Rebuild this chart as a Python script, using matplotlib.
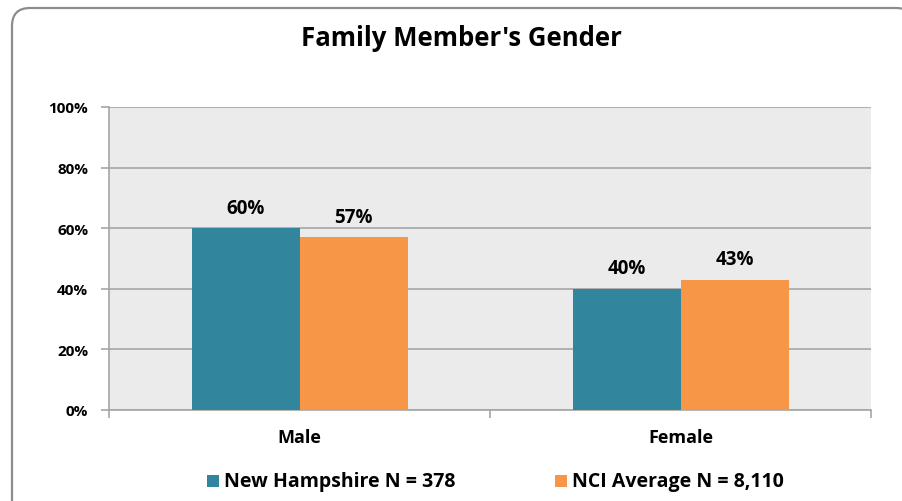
import matplotlib
matplotlib.use("Agg")
import matplotlib.pyplot as plt
from matplotlib.patches import FancyBboxPatch, Rectangle
import numpy as np

categories = ["Male", "Female"]
nh_values = [60, 40]
nci_values = [57, 43]
series_names = ["New Hampshire N = 378", "NCI Average N = 8,110"]
title = "Family Member's Gender"
yticks = [0, 20, 40, 60, 80, 100]

teal = "#31859C"
orange = "#F79646"

plt.rcParams['font.family'] = ['Open Sans', 'DejaVu Sans']
plt.rcParams['font.weight'] = 'bold'

fig = plt.figure(figsize=(9.02, 5.02), dpi=100)
W, H = 902, 502

# rounded border
border = FancyBboxPatch((12 / W, -0.05), 1.0, (502 - 9) / H + 0.05,
                        boxstyle="round,pad=0,rounding_size=0.02",
                        transform=fig.transFigure, facecolor="white",
                        edgecolor="#8C8C8C", linewidth=1.6, zorder=-10,
                        mutation_aspect=W / H)
fig.patches.append(border)

ax = fig.add_axes([109 / W, 1 - 411 / H, (871 - 109) / W, (411 - 108) / H])
ax.set_zorder(5)
ax.set_facecolor("#EBEBEB")
ax.set_xlim(0, 2)
ax.set_ylim(0, 100)

x = np.arange(len(categories)) + 0.5
bw = 108 / 381
b1 = ax.bar(x - bw / 2, nh_values, bw, color=teal, zorder=3)
b2 = ax.bar(x + bw / 2, nci_values, bw, color=orange, zorder=3)

for bars, vals in ((b1, nh_values), (b2, nci_values)):
    for r, v in zip(bars, vals):
        ax.text(r.get_x() + r.get_width() / 2, v + 3.5, f"{v}%", ha="center",
                va="bottom", fontsize=13.5, fontweight="bold", color="black")

ax.set_yticks(yticks)
ax.set_yticklabels([f"{t}%" for t in yticks], fontsize=11, fontweight="bold")
ax.yaxis.grid(True, color="#A6A6A6", linewidth=1.2, zorder=0)
ax.set_axisbelow(True)

ax.set_xticks([0, 1, 2])
ax.set_xticklabels([])
ax.set_xticks(x, minor=True)
ax.set_xticklabels(categories, minor=True, fontsize=13, fontweight="bold")
ax.tick_params(axis="x", which="minor", length=0, pad=13)
ax.tick_params(axis="x", which="major", length=6, color="#A6A6A6", width=1.2)
ax.tick_params(axis="y", length=6, color="#A6A6A6", width=1.2, pad=9)

for s in ["top", "right"]:
    ax.spines[s].set_visible(False)
for s in ["left", "bottom"]:
    ax.spines[s].set_color("#A6A6A6")
    ax.spines[s].set_linewidth(1.2)

fig.text(461 / W, 1 - 39 / H, title, ha="center", va="center",
         fontsize=18.5, fontweight="bold")

# legend
leg_y = 1 - 482 / H
for sx, c, name in ((207, teal, series_names[0]), (555, orange, series_names[1])):
    fig.patches.append(Rectangle((sx / W, leg_y - 6 / H), 12 / W, 12 / H,
                                 transform=fig.transFigure, facecolor=c,
                                 edgecolor="none"))
    fig.text((sx + 17) / W, leg_y, name, ha="left", va="center",
             fontsize=14, fontweight="bold")

fig.savefig("out.png", dpi=100)
